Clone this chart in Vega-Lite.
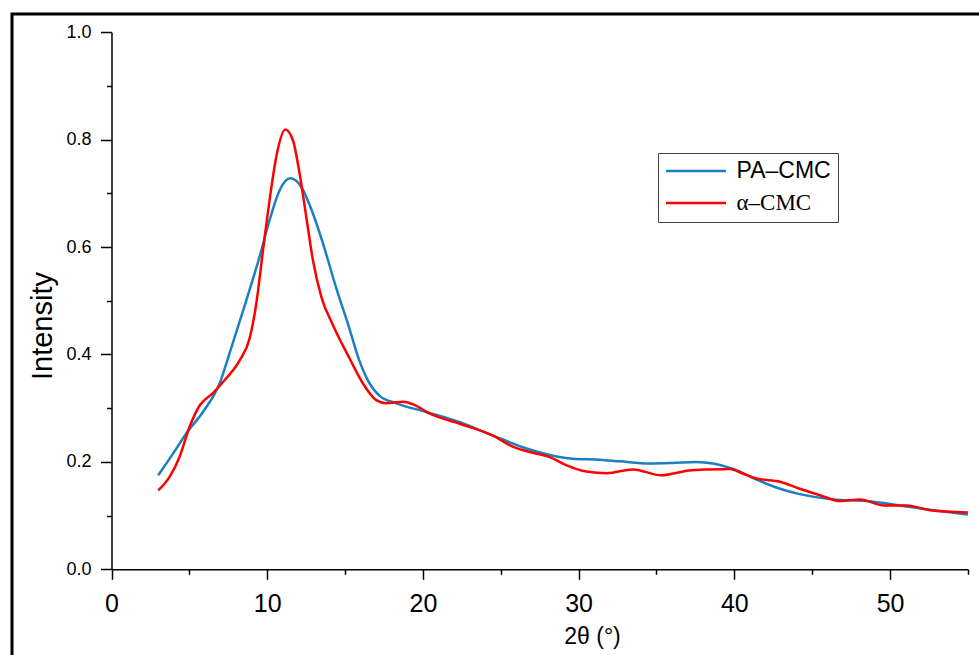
{
  "$schema": "https://vega.github.io/schema/vega-lite/v6.json",
  "autosize": "none",
  "padding": {"left": 12, "top": 14, "right": 0, "bottom": 0},
  "width": 975,
  "height": 648,
  "background": "white",
  "config": {
    "view": {"stroke": "black", "strokeWidth": 3},
    "axis": {
      "domainColor": "black", "domainWidth": 1.5,
      "tickColor": "black", "tickWidth": 1.5,
      "labelFont": "Liberation Sans", "labelColor": "black",
      "titleFont": "Liberation Sans", "titleColor": "black", "titleFontWeight": "normal",
      "grid": false, "labelOverlap": false, "labelFlush": false, "labelBound": false
    }
  },
  "data": {"values": [
    {"x": 3, "y": 0.175, "s": "PA–CMC"},
    {"x": 3.94, "y": 0.215, "s": "PA–CMC"},
    {"x": 4.8, "y": 0.253, "s": "PA–CMC"},
    {"x": 5.87, "y": 0.293, "s": "PA–CMC"},
    {"x": 6.94, "y": 0.346, "s": "PA–CMC"},
    {"x": 7.58, "y": 0.402, "s": "PA–CMC"},
    {"x": 8.66, "y": 0.501, "s": "PA–CMC"},
    {"x": 9.51, "y": 0.582, "s": "PA–CMC"},
    {"x": 10.15, "y": 0.65, "s": "PA–CMC"},
    {"x": 10.8, "y": 0.706, "s": "PA–CMC"},
    {"x": 11.48, "y": 0.728, "s": "PA–CMC"},
    {"x": 12.19, "y": 0.712, "s": "PA–CMC"},
    {"x": 12.93, "y": 0.663, "s": "PA–CMC"},
    {"x": 13.6, "y": 0.605, "s": "PA–CMC"},
    {"x": 14.4, "y": 0.527, "s": "PA–CMC"},
    {"x": 15.25, "y": 0.451, "s": "PA–CMC"},
    {"x": 15.9, "y": 0.39, "s": "PA–CMC"},
    {"x": 16.5, "y": 0.35, "s": "PA–CMC"},
    {"x": 17.22, "y": 0.323, "s": "PA–CMC"},
    {"x": 18.3, "y": 0.309, "s": "PA–CMC"},
    {"x": 20.2, "y": 0.293, "s": "PA–CMC"},
    {"x": 22.37, "y": 0.274, "s": "PA–CMC"},
    {"x": 24.5, "y": 0.249, "s": "PA–CMC"},
    {"x": 26.65, "y": 0.225, "s": "PA–CMC"},
    {"x": 28.15, "y": 0.213, "s": "PA–CMC"},
    {"x": 29.6, "y": 0.206, "s": "PA–CMC"},
    {"x": 31.36, "y": 0.204, "s": "PA–CMC"},
    {"x": 32.65, "y": 0.201, "s": "PA–CMC"},
    {"x": 34.58, "y": 0.197, "s": "PA–CMC"},
    {"x": 36.0, "y": 0.198, "s": "PA–CMC"},
    {"x": 37.57, "y": 0.2, "s": "PA–CMC"},
    {"x": 38.64, "y": 0.197, "s": "PA–CMC"},
    {"x": 39.93, "y": 0.187, "s": "PA–CMC"},
    {"x": 41.43, "y": 0.167, "s": "PA–CMC"},
    {"x": 42.93, "y": 0.15, "s": "PA–CMC"},
    {"x": 44.2, "y": 0.14, "s": "PA–CMC"},
    {"x": 46.36, "y": 0.13, "s": "PA–CMC"},
    {"x": 48.5, "y": 0.127, "s": "PA–CMC"},
    {"x": 50.64, "y": 0.119, "s": "PA–CMC"},
    {"x": 52.78, "y": 0.11, "s": "PA–CMC"},
    {"x": 55, "y": 0.102, "s": "PA–CMC"},
    {"x": 3, "y": 0.147, "s": "α–CMC"},
    {"x": 3.73, "y": 0.172, "s": "α–CMC"},
    {"x": 4.37, "y": 0.209, "s": "α–CMC"},
    {"x": 5.01, "y": 0.265, "s": "α–CMC"},
    {"x": 5.66, "y": 0.305, "s": "α–CMC"},
    {"x": 6.51, "y": 0.328, "s": "α–CMC"},
    {"x": 7.26, "y": 0.352, "s": "α–CMC"},
    {"x": 8.23, "y": 0.389, "s": "α–CMC"},
    {"x": 8.87, "y": 0.43, "s": "α–CMC"},
    {"x": 9.3, "y": 0.495, "s": "α–CMC"},
    {"x": 9.73, "y": 0.594, "s": "α–CMC"},
    {"x": 10.15, "y": 0.687, "s": "α–CMC"},
    {"x": 10.58, "y": 0.768, "s": "α–CMC"},
    {"x": 11.16, "y": 0.819, "s": "α–CMC"},
    {"x": 11.65, "y": 0.799, "s": "α–CMC"},
    {"x": 12.08, "y": 0.737, "s": "α–CMC"},
    {"x": 12.51, "y": 0.656, "s": "α–CMC"},
    {"x": 12.94, "y": 0.575, "s": "α–CMC"},
    {"x": 13.48, "y": 0.507, "s": "α–CMC"},
    {"x": 14.22, "y": 0.455, "s": "α–CMC"},
    {"x": 15.3, "y": 0.392, "s": "α–CMC"},
    {"x": 16.15, "y": 0.346, "s": "α–CMC"},
    {"x": 17.0, "y": 0.315, "s": "α–CMC"},
    {"x": 17.65, "y": 0.309, "s": "α–CMC"},
    {"x": 18.72, "y": 0.312, "s": "α–CMC"},
    {"x": 19.37, "y": 0.307, "s": "α–CMC"},
    {"x": 20.44, "y": 0.29, "s": "α–CMC"},
    {"x": 22.37, "y": 0.271, "s": "α–CMC"},
    {"x": 24.5, "y": 0.249, "s": "α–CMC"},
    {"x": 25.8, "y": 0.228, "s": "α–CMC"},
    {"x": 27.07, "y": 0.217, "s": "α–CMC"},
    {"x": 28.15, "y": 0.209, "s": "α–CMC"},
    {"x": 29.2, "y": 0.194, "s": "α–CMC"},
    {"x": 30.5, "y": 0.182, "s": "α–CMC"},
    {"x": 31.8, "y": 0.179, "s": "α–CMC"},
    {"x": 33.5, "y": 0.186, "s": "α–CMC"},
    {"x": 35.3, "y": 0.175, "s": "α–CMC"},
    {"x": 37.1, "y": 0.184, "s": "α–CMC"},
    {"x": 38.4, "y": 0.186, "s": "α–CMC"},
    {"x": 39.7, "y": 0.187, "s": "α–CMC"},
    {"x": 40.57, "y": 0.178, "s": "α–CMC"},
    {"x": 41.43, "y": 0.169, "s": "α–CMC"},
    {"x": 42.93, "y": 0.163, "s": "α–CMC"},
    {"x": 44.2, "y": 0.15, "s": "α–CMC"},
    {"x": 45.5, "y": 0.138, "s": "α–CMC"},
    {"x": 46.8, "y": 0.127, "s": "α–CMC"},
    {"x": 48.07, "y": 0.13, "s": "α–CMC"},
    {"x": 49.57, "y": 0.119, "s": "α–CMC"},
    {"x": 51.07, "y": 0.119, "s": "α–CMC"},
    {"x": 52.57, "y": 0.11, "s": "α–CMC"},
    {"x": 55, "y": 0.106, "s": "α–CMC"}
  ]},
  "mark": {"type": "line", "interpolate": "monotone", "strokeWidth": 2.5},
  "encoding": {
    "x": {
      "field": "x", "type": "quantitative",
      "scale": {"domain": [0, 55], "range": [99.5, 955.9], "nice": false, "zero": false},
      "axis": {
        "offset": -92.7,
        "values": [0, 5, 10, 15, 20, 25, 30, 35, 40, 45, 50, 55],
        "labelExpr": "datum.value % 10 == 0 ? datum.label : ''",
        "tickSize": {"condition": {"test": "datum.value % 10 != 0", "value": 5}, "value": 10},
        "labelFontSize": 25,
        "labelPadding": 12,
        "title": "2θ (°)",
        "titleFontSize": 23,
        "titleX": 580,
        "titleY": 73.7,
        "titleBaseline": "alphabetic",
        "titleAnchor": null,
        "titleAlign": "center"
      }
    },
    "y": {
      "field": "y", "type": "quantitative",
      "scale": {"domain": [0, 1], "range": [555.3, 18.3], "nice": false, "zero": false},
      "axis": {
        "offset": -99.5,
        "values": [0, 0.1, 0.2, 0.3, 0.4, 0.5, 0.6, 0.7, 0.8, 0.9, 1.0],
        "labelExpr": "abs(datum.value*5 - round(datum.value*5)) < 0.01 ? format(datum.value, '.1f') : ''",
        "tickSize": {"condition": {"test": "abs(datum.value*5 - round(datum.value*5)) > 0.01", "value": 5}, "value": 11},
        "labelFontSize": 18,
        "labelPadding": 9.5,
        "title": "Intensity",
        "titleFontSize": 29,
        "titleX": -69.5,
        "titleY": 311.5,
        "titleBaseline": "middle",
        "titleAngle": -90,
        "titleAlign": "center"
      }
    },
    "color": {
      "field": "s", "type": "nominal",
      "scale": {"domain": ["PA–CMC", "α–CMC"], "range": ["#1b7fc1", "#ff0000"]},
      "legend": {
        "orient": "none",
        "legendX": 646,
        "legendY": 139,
        "title": null,
        "symbolType": "M-1,0H5",
        "symbolSize": 400,
        "symbolStrokeWidth": 2.5,
        "symbolFillColor": "transparent",
        "labelFont": "Liberation Sans",
        "labelFontSize": 23,
        "labelColor": "black",
        "labelOffset": 49,
        "rowPadding": 8,
        "padding": 6.5,
        "strokeColor": "#444444",
        "fillColor": "white",
        "labelLimit": 300,
        "encode": {
          "labels": {"update": {"font": {"signal": "datum.label == 'PA–CMC' ? 'Liberation Sans' : 'Liberation Serif'"}}}
        }
      }
    }
  }
}
